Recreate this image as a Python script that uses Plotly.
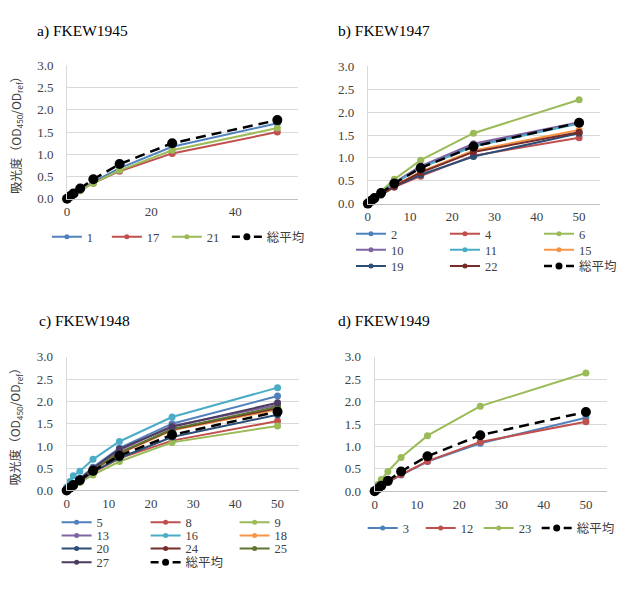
import plotly.graph_objects as go

# ---------------- data ----------------
x_conc = [0, 0.78, 1.56, 3.125, 6.25, 12.5, 25, 50]
grand_avg = [0.0, 0.06, 0.12, 0.23, 0.44, 0.78, 1.25, 1.77]

# a) FKEW1945
a_1 = [0.0, 0.05, 0.10, 0.20, 0.38, 0.69, 1.17, 1.70]
a_17 = [0.0, 0.05, 0.09, 0.19, 0.35, 0.62, 1.02, 1.50]
a_21 = [0.01, 0.05, 0.10, 0.18, 0.35, 0.64, 1.09, 1.59]

# b) FKEW1947
b_2 = [0.0, 0.06, 0.12, 0.23, 0.45, 0.80, 1.27, 1.76]
b_4 = [0.0, 0.05, 0.09, 0.19, 0.36, 0.60, 1.05, 1.44]
b_6 = [0.01, 0.07, 0.14, 0.27, 0.53, 0.95, 1.54, 2.27]
b_10 = [0.0, 0.06, 0.12, 0.24, 0.46, 0.82, 1.31, 1.78]
b_11 = [0.0, 0.06, 0.12, 0.23, 0.44, 0.78, 1.25, 1.75]
b_15 = [0.0, 0.05, 0.10, 0.20, 0.38, 0.70, 1.16, 1.61]
b_19 = [0.0, 0.05, 0.10, 0.19, 0.37, 0.63, 1.03, 1.54]
b_22 = [0.0, 0.05, 0.10, 0.20, 0.38, 0.68, 1.13, 1.56]

# c) FKEW1948
c_5 = [0.02, 0.08, 0.15, 0.27, 0.52, 0.95, 1.50, 2.12]
c_8 = [0.0, 0.05, 0.10, 0.21, 0.40, 0.72, 1.12, 1.56]
c_9 = [0.0, 0.05, 0.09, 0.18, 0.35, 0.65, 1.08, 1.45]
c_13 = [0.01, 0.07, 0.13, 0.26, 0.50, 0.90, 1.45, 1.92]
c_16 = [0.08, 0.20, 0.33, 0.43, 0.70, 1.10, 1.65, 2.31]
c_18 = [0.0, 0.06, 0.12, 0.24, 0.46, 0.82, 1.35, 1.82]
c_20 = [0.0, 0.05, 0.11, 0.21, 0.42, 0.73, 1.20, 1.70]
c_24 = [0.0, 0.06, 0.12, 0.24, 0.46, 0.84, 1.37, 1.85]
c_25 = [0.0, 0.06, 0.12, 0.24, 0.47, 0.85, 1.38, 1.88]
c_27 = [0.01, 0.07, 0.13, 0.26, 0.50, 0.93, 1.43, 1.97]

# d) FKEW1949
d_3 = [0.0, 0.05, 0.10, 0.20, 0.36, 0.66, 1.07, 1.64]
d_12 = [0.0, 0.05, 0.10, 0.20, 0.37, 0.67, 1.10, 1.55]
d_23 = [0.02, 0.15, 0.26, 0.44, 0.75, 1.24, 1.90, 2.64]

titles = ["a) FKEW1945", "b) FKEW1947", "c) FKEW1948", "d) FKEW1949"]
avg_name = "総平均"
y_title = "吸光度（OD<sub>450</sub>/OD<sub>ref</sub>）"
y_ticks = [0.0, 0.5, 1.0, 1.5, 2.0, 2.5, 3.0]

# ---------------- styles ----------------
C = {
    "blue": "#4F81BD", "red": "#C0504D", "green": "#9BBB59", "purple": "#8064A2",
    "aqua": "#4BACC6", "orange": "#F79646", "dkblue": "#2C4D75", "dkred": "#772C2A",
    "dkgreen": "#5F7530", "dkpurple": "#4D3B62",
}
W, H = 634, 593
SERIF = "Liberation Serif, Times New Roman, DejaVu Serif, Noto Sans CJK JP"
SANS_JP = "Noto Sans CJK JP, Liberation Serif"
AVG_LINE = dict(color="black", width=2.5, dash="10px,6px")
AVG_LEG_LINE = dict(color="black", width=2.5, dash="8px,14px,8px")

panels = [
    ("", [("1", a_1, C["blue"], "legend"), ("17", a_17, C["red"], "legend"),
          ("21", a_21, C["green"], "legend")], "legend"),
    ("2", [("2", b_2, C["blue"], "legend2"), ("4", b_4, C["red"], "legend2"),
           ("6", b_6, C["green"], "legend2"), ("10", b_10, C["purple"], "legend3"),
           ("11", b_11, C["aqua"], "legend3"), ("15", b_15, C["orange"], "legend3"),
           ("19", b_19, C["dkblue"], "legend4"), ("22", b_22, C["dkred"], "legend4")], "legend4"),
    ("3", [("5", c_5, C["blue"], "legend5"), ("8", c_8, C["red"], "legend5"),
           ("9", c_9, C["green"], "legend5"), ("13", c_13, C["purple"], "legend6"),
           ("16", c_16, C["aqua"], "legend6"), ("18", c_18, C["orange"], "legend6"),
           ("20", c_20, C["dkblue"], "legend7"), ("24", c_24, C["dkred"], "legend7"),
           ("25", c_25, C["dkgreen"], "legend7"), ("27", c_27, C["dkpurple"], "legend8")], "legend8"),
    ("4", [("3", d_3, C["blue"], "legend9"), ("12", d_12, C["red"], "legend9"),
           ("23", d_23, C["green"], "legend9")], "legend9"),
]

fig = go.Figure()
for suf, series, avg_leg in panels:
    ax = dict(xaxis="x" + suf, yaxis="y" + suf)
    for name, vals, col, leg in series:
        fig.add_trace(go.Scatter(
            x=x_conc, y=vals, name=name, mode="lines+markers",
            line=dict(color=col, width=2), marker=dict(color=col, size=7),
            showlegend=False, cliponaxis=False, **ax,
        ))
    fig.add_trace(go.Scatter(
        x=x_conc, y=grand_avg, name=avg_name, mode="lines+markers",
        line=AVG_LINE, marker=dict(color="black", size=10),
        showlegend=False, cliponaxis=False, **ax,
    ))
    # legend entries (smaller symbols, like the original)
    for name, vals, col, leg in series:
        fig.add_trace(go.Scatter(
            x=[None], y=[None], name=name, mode="lines+markers",
            line=dict(color=col, width=2), marker=dict(color=col, size=5),
            legend=leg, **ax,
        ))
    fig.add_trace(go.Scatter(
        x=[None], y=[None], name=avg_name, mode="lines+markers",
        line=AVG_LEG_LINE, marker=dict(color="black", size=7),
        legend=avg_leg, legendwidth=50, **ax,
    ))

areas = [(65.7, 303, 60, 196.7), (374.3, 612.7, 61, 201.7),
         (65.3, 303.3, 359, 496), (381.3, 619.7, 359, 496.7)]
xdticks = [20, 10, 10, 10]

layout = dict(
    width=W, height=H, margin=dict(l=0, r=0, t=0, b=0), autosize=False,
    paper_bgcolor="white", plot_bgcolor="white",
    font=dict(family=SERIF, size=13, color="#404040"),
)
for i, (suf, _, _) in enumerate(panels):
    l, r, t, b = areas[i]
    layout["xaxis" + suf] = dict(
        domain=[l / W, r / W], range=[0, 55], dtick=xdticks[i], tick0=0,
        showgrid=False, zeroline=False, showline=True, linecolor="#BFBFBF", linewidth=1,
        ticks="outside", ticklen=1, tickcolor="rgba(0,0,0,0)",
        tickfont=dict(family=SERIF, size=13, color="#404040"),
        anchor="y" + suf,
    )
    layout["yaxis" + suf] = dict(
        domain=[1 - b / H, 1 - t / H], range=[0, 3], tickvals=y_ticks,
        ticktext=[f"{v:.1f}" for v in y_ticks],
        showgrid=True, gridcolor="#D9D9D9", gridwidth=1, zeroline=False,
        showline=True, linecolor="#D9D9D9", linewidth=1,
        ticks="outside", ticklen=10, tickcolor="rgba(0,0,0,0)",
        tickfont=dict(family=SERIF, size=13, color="#404040"),
        anchor="x" + suf,
    )

legends = [
    ("legend", 45, 236, 15),
    ("legend2", 357, 233, 49), ("legend3", 357, 249.5, 49), ("legend4", 357, 266, 49),
    ("legend5", 55, 529, 44), ("legend6", 55, 542.5, 44), ("legend7", 55, 556, 44),
    ("legend8", 55, 570, 44),
    ("legend9", 369, 535, 13),
]
for name, xp, yp, ew in legends:
    layout[name] = dict(
        orientation="h", x=xp / W, y=1 - yp / H, xanchor="left", yanchor="middle",
        xref="paper", yref="paper", bgcolor="rgba(0,0,0,0)", borderwidth=0,
        entrywidth=ew, entrywidthmode="pixels", itemclick=False,
        font=dict(family=SERIF, size=12.5, color="#404040"), tracegroupgap=0,
    )

annotations = []
title_pos = [(33, 25), (342, 25), (35, 322), (342, 322)]
for txt, (xp, yp) in zip(titles, title_pos):
    annotations.append(dict(
        text=txt, x=xp / W, y=1 - yp / H, xref="paper", yref="paper",
        xanchor="left", yanchor="middle", showarrow=False,
        font=dict(family=SERIF, size=15.5, color="black"),
    ))
for yc in [(60 + 196.7) / 2, (359 + 496) / 2]:
    annotations.append(dict(
        text=y_title, x=13 / W, y=1 - yc / H, xref="paper", yref="paper",
        xanchor="center", yanchor="middle", textangle=-90, showarrow=False,
        font=dict(family=SANS_JP, size=12, color="#404040"),
    ))
layout["annotations"] = annotations

fig.update_layout(**layout)
fig.write_html("out.html")
